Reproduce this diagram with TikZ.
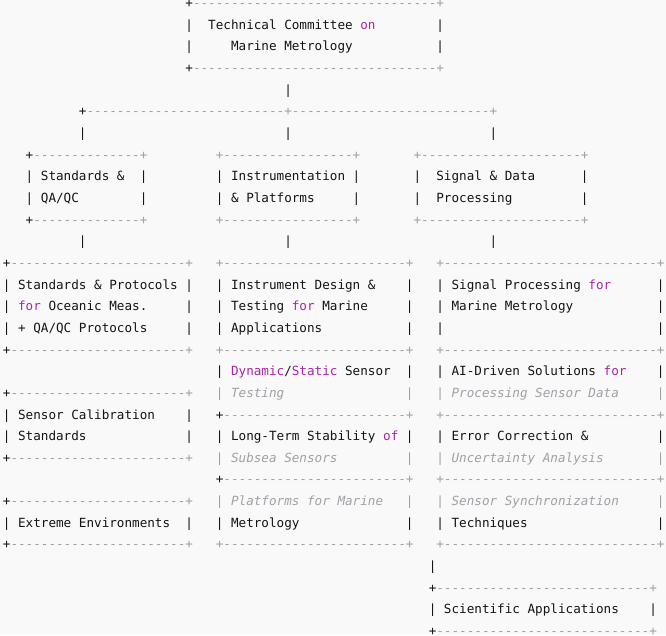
\documentclass[tikz,border=0pt]{standalone}
\usepackage{fontspec}
\setmonofont{DejaVu Sans Mono}
\definecolor{ink}{HTML}{141414}
\definecolor{kw}{HTML}{A626A4}
\definecolor{cm}{HTML}{A0A1A7}
\definecolor{bg}{HTML}{F9F9F9}
\ExplSyntaxOn
\cs_new:Npn \asciirep #1#2 { \prg_replicate:nn {#1} {#2} }
\ExplSyntaxOff
\newcommand\K[1]{\textcolor{kw}{#1}}
\newcommand\CM[1]{\textcolor{cm}{\itshape #1}}
\newcommand\tx[4]{\node[ascii] (#1) at ({2.9+7.605*(#2)},{-(7.65+21.65*(#3))}) {#4};}
% border row: name, left col, right col, row, first plus dark (1) or grey (0)
\newcommand\brd[5]{\tx{#1}{#2}{#4}{\ifnum#5=1 +\else\textcolor{cm}{+}\fi\textcolor{cm}{\asciirep{#3-#2-1}{-}+}}}
\begin{document}
\begin{tikzpicture}[x=1pt,y=1pt,
  ascii/.style={anchor=base west,inner sep=0pt,outer sep=0pt,text=ink,
    font=\ttfamily\fontsize{12.632pt}{21.65pt}\selectfont}]
\fill[bg] (0,0) rectangle (666,-635);
\useasboundingbox (0,0) rectangle (666,-635);
% top box
\brd{tcT}{24}{57}{0}{1}
\tx{tcA}{24}{1}{|~~Technical~Committee~\K{on}}
\tx{tcAr}{57}{1}{|}
\tx{tcB}{24}{2}{|~~~~~Marine~Metrology}
\tx{tcBr}{57}{2}{|}
\brd{tcU}{24}{57}{3}{1}
\tx{v0}{37}{4}{|}
% bus
\tx{bus}{10}{5}{+\textcolor{cm}{\asciirep{26}{-}+\asciirep{26}{-}+}}
\tx{v1}{10}{6}{|} \tx{v2}{37}{6}{|} \tx{v3}{64}{6}{|}
% level 2
\brd{aT}{3}{18}{7}{1} \brd{bT}{28}{46}{7}{0} \brd{cT}{54}{76}{7}{0}
\tx{a1}{3}{8}{|~Standards~\&} \tx{a1r}{18}{8}{|}
\tx{b1}{28}{8}{|~Instrumentation} \tx{b1r}{46}{8}{|}
\tx{c1}{54}{8}{|~~Signal~\&~Data} \tx{c1r}{76}{8}{|}
\tx{a2}{3}{9}{|~QA/QC} \tx{a2r}{18}{9}{|}
\tx{b2}{28}{9}{|~\&~Platforms} \tx{b2r}{46}{9}{|}
\tx{c2}{54}{9}{|~~Processing} \tx{c2r}{76}{9}{|}
\brd{aU}{3}{18}{10}{1} \brd{bU}{28}{46}{10}{0} \brd{cU}{54}{76}{10}{0}
\tx{v4}{10}{11}{|} \tx{v5}{37}{11}{|} \tx{v6}{64}{11}{|}
% level 3
\brd{lT}{0}{24}{12}{1} \brd{mT}{28}{53}{12}{0} \brd{rT}{57}{86}{12}{0}
\tx{l1}{0}{13}{|~Standards~\&~Protocols} \tx{l1r}{24}{13}{|}
\tx{m1}{28}{13}{|~Instrument~Design~\&} \tx{m1r}{53}{13}{|}
\tx{r1}{57}{13}{|~Signal~Processing~\K{for}} \tx{r1r}{86}{13}{|}
\tx{l2}{0}{14}{|~\K{for}~Oceanic~Meas.} \tx{l2r}{24}{14}{|}
\tx{m2}{28}{14}{|~Testing~\K{for}~Marine} \tx{m2r}{53}{14}{|}
\tx{r2}{57}{14}{|~Marine~Metrology} \tx{r2r}{86}{14}{|}
\tx{l3}{0}{15}{|~+~QA/QC~Protocols} \tx{l3r}{24}{15}{|}
\tx{m3}{28}{15}{|~Applications} \tx{m3r}{53}{15}{|}
\tx{r3}{57}{15}{|} \tx{r3r}{86}{15}{|}
\brd{lU}{0}{24}{16}{1} \brd{mU}{28}{53}{16}{0} \brd{rU}{57}{86}{16}{0}
\tx{m4}{28}{17}{|~\K{Dynamic}/\K{Static}~Sensor} \tx{m4r}{53}{17}{|}
\tx{r4}{57}{17}{|~AI-Driven~Solutions~\K{for}} \tx{r4r}{86}{17}{|}
\brd{l2T}{0}{24}{18}{1}
\tx{m5}{28}{18}{\CM{|~Testing}} \tx{m5r}{53}{18}{\CM{|}}
\tx{r5}{57}{18}{\CM{|~Processing~Sensor~Data}} \tx{r5r}{86}{18}{\CM{|}}
\tx{l4}{0}{19}{|~Sensor~Calibration} \tx{l4r}{24}{19}{|}
\brd{m2T}{28}{53}{19}{1} \brd{r2T}{57}{86}{19}{0}
\tx{l5}{0}{20}{|~Standards} \tx{l5r}{24}{20}{|}
\tx{m6}{28}{20}{|~Long-Term~Stability~\K{of}} \tx{m6r}{53}{20}{|}
\tx{r6}{57}{20}{|~Error~Correction~\&} \tx{r6r}{86}{20}{|}
\brd{l2U}{0}{24}{21}{1}
\tx{m7}{28}{21}{\CM{|~Subsea~Sensors}} \tx{m7r}{53}{21}{\CM{|}}
\tx{r7}{57}{21}{\CM{|~Uncertainty~Analysis}} \tx{r7r}{86}{21}{\CM{|}}
\brd{m3T}{28}{53}{22}{1} \brd{r3T}{57}{86}{22}{0}
\brd{l3T}{0}{24}{23}{1}
\tx{m8}{28}{23}{\CM{|~Platforms~for~Marine}} \tx{m8r}{53}{23}{\CM{|}}
\tx{r8}{57}{23}{\CM{|~Sensor~Synchronization}} \tx{r8r}{86}{23}{\CM{|}}
\tx{l6}{0}{24}{|~Extreme~Environments} \tx{l6r}{24}{24}{|}
\tx{m9}{28}{24}{|~Metrology} \tx{m9r}{53}{24}{|}
\tx{r9}{57}{24}{|~Techniques} \tx{r9r}{86}{24}{|}
\brd{l3U}{0}{24}{25}{1} \brd{m3U}{28}{53}{25}{0} \brd{r3U}{57}{86}{25}{0}
% bottom branch
\tx{v7}{56}{26}{|}
\brd{sT}{56}{85}{27}{1}
\tx{s1}{56}{28}{|~Scientific~Applications} \tx{s1r}{85}{28}{|}
\brd{sU}{56}{85}{29}{1}
\end{tikzpicture}
\end{document}
